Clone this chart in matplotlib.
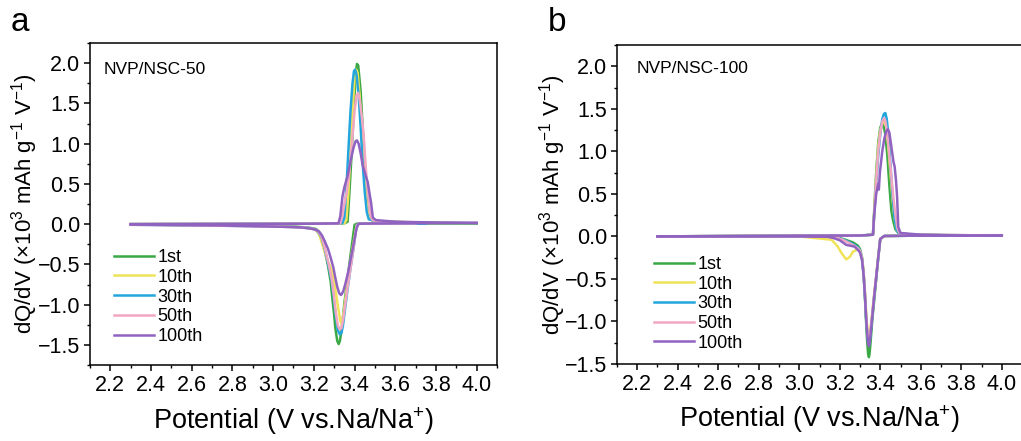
import matplotlib
matplotlib.use("Agg")
from matplotlib import pyplot as plt
from matplotlib.ticker import MultipleLocator

plt.rcParams["font.family"] = ["Liberation Sans", "DejaVu Sans"]
plt.rcParams["mathtext.fontset"] = "custom"
plt.rcParams["mathtext.rm"] = "Liberation Sans"
plt.rcParams["mathtext.it"] = "Liberation Sans:italic"
plt.rcParams["mathtext.bf"] = "Liberation Sans:bold"
plt.rcParams["mathtext.default"] = "regular"

labels = ["1st", "10th", "30th", "50th", "100th"]
colors = ["#3aa845", "#f0e35a", "#23a6dd", "#f2a7c3", "#9163c1"]

# ---- panel a: NVP/NSC-50 ----
# charge branches (V, dQ/dV)
a_chg_v = [
    [2.30, 2.90, 3.20, 3.35, 3.366, 3.375, 3.385, 3.395, 3.405, 3.412, 3.418, 3.43, 3.44, 3.45, 3.46, 3.47, 3.49, 3.55, 3.70, 4.00],
    [2.30, 2.90, 3.20, 3.35, 3.36, 3.37, 3.38, 3.39, 3.40, 3.408, 3.415, 3.425, 3.435, 3.445, 3.455, 3.465, 3.475, 3.49, 3.55, 3.75],
    [2.30, 2.90, 3.20, 3.34, 3.35, 3.36, 3.37, 3.38, 3.39, 3.397, 3.403, 3.41, 3.42, 3.43, 3.44, 3.45, 3.46, 3.47, 3.50, 3.60, 3.75],
    [2.30, 2.90, 3.20, 3.33, 3.34, 3.35, 3.36, 3.37, 3.38, 3.39, 3.40, 3.41, 3.418, 3.425, 3.435, 3.445, 3.455, 3.465, 3.475, 3.485, 3.50, 3.60, 3.70],
    [2.30, 2.90, 3.20, 3.321, 3.33, 3.341, 3.349, 3.366, 3.38, 3.395, 3.405, 3.412, 3.42, 3.43, 3.44, 3.455, 3.465, 3.473, 3.481, 3.49, 3.505, 3.60, 3.80, 4.00],
]
a_chg_y = [
    [0.0, 0.003, 0.005, 0.01, 0.03, 0.4, 0.85, 1.35, 1.85, 1.99, 1.97, 1.65, 1.2, 0.75, 0.33, 0.1, 0.04, 0.03, 0.02, 0.012],
    [0.0, 0.003, 0.005, 0.01, 0.05, 0.4, 0.9, 1.4, 1.8, 1.92, 1.88, 1.6, 1.15, 0.7, 0.35, 0.13, 0.06, 0.04, 0.03, 0.02],
    [0.0, 0.003, 0.005, 0.01, 0.08, 0.45, 0.93, 1.4, 1.75, 1.9, 1.92, 1.85, 1.6, 1.2, 0.75, 0.4, 0.15, 0.06, 0.04, 0.025, 0.02],
    [0.0, 0.003, 0.005, 0.01, 0.1, 0.25, 0.38, 0.55, 0.8, 1.1, 1.4, 1.6, 1.63, 1.55, 1.35, 1.1, 0.7, 0.4, 0.15, 0.06, 0.04, 0.025, 0.02],
    [0.0, 0.003, 0.005, 0.01, 0.1, 0.35, 0.45, 0.6, 0.78, 0.95, 1.03, 1.04, 1.0, 0.88, 0.73, 0.6, 0.52, 0.39, 0.27, 0.08, 0.05, 0.03, 0.02, 0.015],
]
# discharge branches
a_dis_v = [
    [4.00, 3.70, 3.50, 3.41, 3.40, 3.38, 3.366, 3.35, 3.337, 3.328, 3.322, 3.315, 3.305, 3.30, 3.29, 3.283, 3.27, 3.258, 3.245, 3.232, 3.224, 3.21, 3.18, 3.10, 2.90, 2.60, 2.30],
    [3.75, 3.60, 3.50, 3.42, 3.41, 3.39, 3.375, 3.36, 3.348, 3.34, 3.336, 3.33, 3.32, 3.31, 3.30, 3.29, 3.28, 3.27, 3.26, 3.25, 3.24, 3.23, 3.22, 3.20, 3.15, 3.00, 2.70, 2.30],
    [3.75, 3.60, 3.50, 3.42, 3.41, 3.395, 3.38, 3.365, 3.352, 3.343, 3.336, 3.328, 3.318, 3.308, 3.298, 3.288, 3.275, 3.262, 3.25, 3.238, 3.225, 3.21, 3.18, 3.10, 2.90, 2.60, 2.30],
    [3.70, 3.60, 3.50, 3.42, 3.41, 3.395, 3.38, 3.365, 3.352, 3.343, 3.336, 3.328, 3.318, 3.308, 3.298, 3.288, 3.275, 3.262, 3.25, 3.238, 3.225, 3.21, 3.18, 3.10, 2.90, 2.60, 2.30],
    [4.00, 3.80, 3.60, 3.50, 3.42, 3.41, 3.395, 3.382, 3.37, 3.355, 3.345, 3.337, 3.333, 3.325, 3.315, 3.305, 3.295, 3.283, 3.27, 3.253, 3.24, 3.225, 3.205, 3.184, 3.135, 3.00, 2.70, 2.30],
]
a_dis_y = [
    [0.01, 0.008, 0.006, 0.005, -0.01, -0.39, -0.67, -0.98, -1.30, -1.45, -1.49, -1.45, -1.28, -1.13, -0.9, -0.72, -0.52, -0.38, -0.22, -0.12, -0.09, -0.06, -0.045, -0.03, -0.02, -0.012, -0.005],
    [0.015, 0.01, 0.008, 0.005, -0.02, -0.3, -0.55, -0.83, -1.07, -1.2, -1.24, -1.2, -1.05, -0.88, -0.72, -0.6, -0.52, -0.47, -0.4, -0.32, -0.24, -0.16, -0.1, -0.06, -0.04, -0.025, -0.012, -0.005],
    [0.005, 0.008, 0.006, 0.005, -0.02, -0.3, -0.55, -0.82, -1.08, -1.26, -1.35, -1.37, -1.32, -1.15, -0.92, -0.72, -0.55, -0.4, -0.27, -0.17, -0.11, -0.07, -0.05, -0.035, -0.025, -0.015, -0.008],
    [0.008, 0.008, 0.006, 0.005, -0.02, -0.3, -0.55, -0.8, -1.04, -1.2, -1.29, -1.31, -1.26, -1.1, -0.88, -0.69, -0.52, -0.38, -0.26, -0.16, -0.1, -0.07, -0.05, -0.035, -0.025, -0.015, -0.008],
    [0.015, 0.012, 0.01, 0.008, 0.005, -0.05, -0.25, -0.42, -0.58, -0.74, -0.83, -0.87, -0.88, -0.86, -0.78, -0.66, -0.53, -0.42, -0.31, -0.21, -0.14, -0.09, -0.065, -0.055, -0.04, -0.03, -0.015, -0.005],
]

# ---- panel b: NVP/NSC-100 ----
b_chg_v = [
    [2.30, 2.70, 3.00, 3.30, 3.364, 3.37, 3.38, 3.39, 3.40, 3.41, 3.415, 3.425, 3.435, 3.445, 3.455, 3.463, 3.475, 3.49, 3.55, 3.70],
    [2.30, 2.70, 3.00, 3.30, 3.364, 3.37, 3.38, 3.39, 3.40, 3.41, 3.42, 3.43, 3.44, 3.45, 3.46, 3.47, 3.48, 3.49, 3.55, 4.00],
    [2.30, 2.70, 3.00, 3.30, 3.364, 3.37, 3.38, 3.39, 3.40, 3.41, 3.418, 3.425, 3.432, 3.44, 3.45, 3.46, 3.47, 3.48, 3.49, 3.55, 4.00],
    [2.30, 2.70, 3.00, 3.30, 3.364, 3.37, 3.38, 3.39, 3.40, 3.41, 3.418, 3.425, 3.435, 3.445, 3.455, 3.465, 3.475, 3.485, 3.495, 3.55, 4.00],
    [2.30, 2.70, 3.00, 3.30, 3.364, 3.37, 3.38, 3.39, 3.393, 3.398, 3.41, 3.42, 3.43, 3.438, 3.445, 3.455, 3.465, 3.471, 3.478, 3.483, 3.489, 3.50, 3.60, 3.80, 4.00],
]
b_chg_y = [
    [0.0, 0.005, 0.008, 0.01, 0.02, 0.3, 0.75, 1.1, 1.28, 1.33, 1.32, 1.2, 0.95, 0.6, 0.3, 0.19, 0.08, 0.04, 0.02, 0.015],
    [0.0, 0.005, 0.008, 0.01, 0.02, 0.28, 0.7, 1.05, 1.25, 1.33, 1.35, 1.28, 1.05, 0.75, 0.45, 0.22, 0.08, 0.04, 0.02, 0.01],
    [0.0, 0.005, 0.008, 0.01, 0.02, 0.25, 0.62, 0.95, 1.2, 1.38, 1.44, 1.45, 1.38, 1.2, 0.85, 0.5, 0.22, 0.08, 0.04, 0.02, 0.01],
    [0.0, 0.005, 0.008, 0.01, 0.02, 0.26, 0.65, 1.0, 1.22, 1.35, 1.39, 1.36, 1.2, 0.95, 0.7, 0.45, 0.25, 0.09, 0.04, 0.02, 0.01],
    [0.0, 0.005, 0.008, 0.01, 0.02, 0.25, 0.5, 0.62, 0.55, 0.75, 1.0, 1.15, 1.24, 1.26, 1.22, 1.05, 0.88, 0.82, 0.65, 0.47, 0.11, 0.04, 0.02, 0.01, 0.01],
]
b_dis_v = [
    [3.70, 3.55, 3.42, 3.40, 3.39, 3.38, 3.37, 3.36, 3.352, 3.347, 3.344, 3.34, 3.335, 3.33, 3.325, 3.318, 3.31, 3.30, 3.29, 3.265, 3.24, 3.215, 3.19, 3.166, 3.00, 2.70, 2.30],
    [4.00, 3.55, 3.42, 3.40, 3.39, 3.38, 3.37, 3.36, 3.352, 3.347, 3.344, 3.34, 3.335, 3.33, 3.325, 3.318, 3.31, 3.30, 3.29, 3.265, 3.25, 3.232, 3.21, 3.19, 3.16, 3.00, 2.70, 2.30],
    [4.00, 3.55, 3.42, 3.40, 3.39, 3.38, 3.37, 3.36, 3.352, 3.347, 3.344, 3.34, 3.335, 3.33, 3.325, 3.318, 3.31, 3.30, 3.29, 3.265, 3.24, 3.215, 3.19, 3.166, 3.00, 2.70, 2.30],
    [3.70, 3.55, 3.42, 3.40, 3.39, 3.38, 3.37, 3.36, 3.352, 3.347, 3.344, 3.34, 3.335, 3.33, 3.325, 3.318, 3.31, 3.30, 3.29, 3.265, 3.24, 3.215, 3.19, 3.166, 3.00, 2.70, 2.30],
    [4.00, 3.55, 3.42, 3.40, 3.39, 3.38, 3.37, 3.36, 3.352, 3.347, 3.344, 3.34, 3.335, 3.33, 3.325, 3.318, 3.31, 3.30, 3.29, 3.273, 3.232, 3.20, 3.17, 3.14, 3.00, 2.70, 2.30],
]
b_dis_y = [
    [0.01, 0.008, 0.005, -0.03, -0.25, -0.5, -0.75, -1.0, -1.25, -1.38, -1.42, -1.38, -1.22, -1.0, -0.75, -0.45, -0.25, -0.15, -0.11, -0.07, -0.05, -0.03, -0.015, -0.005, 0.0, 0.0, 0.0],
    [0.01, 0.008, 0.005, -0.03, -0.24, -0.46, -0.68, -0.9, -1.08, -1.16, -1.18, -1.15, -1.05, -0.88, -0.66, -0.42, -0.25, -0.17, -0.15, -0.18, -0.24, -0.27, -0.2, -0.12, -0.04, 0.0, 0.0, 0.0],
    [0.01, 0.008, 0.005, -0.03, -0.25, -0.48, -0.7, -0.95, -1.15, -1.25, -1.27, -1.24, -1.12, -0.95, -0.72, -0.45, -0.26, -0.17, -0.13, -0.09, -0.06, -0.035, -0.015, -0.005, 0.0, 0.0, 0.0],
    [0.01, 0.008, 0.005, -0.03, -0.24, -0.47, -0.69, -0.93, -1.1, -1.2, -1.22, -1.19, -1.08, -0.92, -0.7, -0.44, -0.26, -0.17, -0.14, -0.1, -0.07, -0.04, -0.02, -0.005, 0.0, 0.0, 0.0],
    [0.01, 0.008, 0.005, -0.03, -0.25, -0.48, -0.71, -0.96, -1.16, -1.26, -1.29, -1.26, -1.13, -0.95, -0.72, -0.46, -0.28, -0.19, -0.16, -0.12, -0.1, -0.045, -0.02, -0.005, 0.0, 0.0, 0.0],
]

fig = plt.figure(figsize=(10.21, 4.41), dpi=100)
ax_a = fig.add_axes([0.0881, 0.1723, 0.3987, 0.7302])
ax_b = fig.add_axes([0.6043, 0.1746, 0.3967, 0.7234])

panels = [
    (ax_a, a_chg_v, a_chg_y, a_dis_v, a_dis_y, "NVP/NSC-50", (-1.75, 2.25), (0.06, 0.36), (0.034, 0.919), -0.160),
    (ax_b, b_chg_v, b_chg_y, b_dis_v, b_dis_y, "NVP/NSC-100", (-1.5, 2.25), (0.091, 0.339), (0.049, 0.925), -0.158),
]

for ax, cv, cy, dv, dy, name, ylim, leg_pos, txt_pos, ylab_x in panels:
    for i in range(len(labels)):
        ax.plot(cv[i], cy[i], color=colors[i], lw=1.8, label=labels[i])
        ax.plot(dv[i], dy[i], color=colors[i], lw=1.8)
    ax.set_xlim(2.1, 4.1)
    ax.set_ylim(*ylim)
    ax.xaxis.set_major_locator(MultipleLocator(0.2))
    ax.xaxis.set_minor_locator(MultipleLocator(0.1))
    ax.yaxis.set_major_locator(MultipleLocator(0.5))
    ax.yaxis.set_minor_locator(MultipleLocator(0.25))
    ax.tick_params(which="major", direction="out", length=4, width=1.1, labelsize=15.5, pad=3)
    ax.tick_params(which="minor", direction="out", length=2.2, width=1.0)
    for s in ax.spines.values():
        s.set_linewidth(1.1)
    ax.set_xlabel("Potential (V vs.Na/Na$^{+}$)", fontsize=19.5)
    ax.xaxis.label.set_va("center")
    ax.xaxis.set_label_coords(0.5, -0.173)
    ax.set_ylabel("dQ/dV (×10$^{3}$ mAh g$^{-1}$ V$^{-1}$)", fontsize=16)
    ax.yaxis.label.set_va("center")
    ax.yaxis.set_label_coords(ylab_x, 0.5)
    ax.text(txt_pos[0], txt_pos[1], name, transform=ax.transAxes, fontsize=12.5, va="center", ha="left")
    ax.legend(loc="upper left", bbox_to_anchor=leg_pos, frameon=False, fontsize=13,
              handlelength=2.2, handletextpad=0.2, labelspacing=0.15,
              borderpad=0, borderaxespad=0)

fig.text(0.010, 0.948, "a", fontsize=24, va="center", ha="left")
fig.text(0.537, 0.950, "b", fontsize=24, va="center", ha="left")

fig.savefig("out.png", dpi=100)
